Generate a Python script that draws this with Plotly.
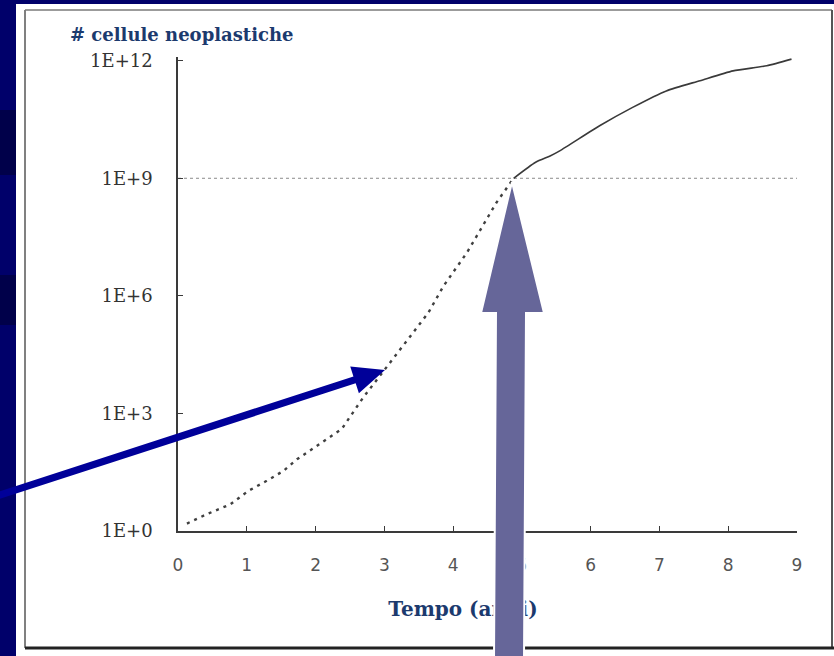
import plotly.graph_objects as go
import numpy as np

# ---- data (time in years, log10 of neoplastic cell count)
dotted_time = [0.13, 0.42, 0.76, 1.02, 1.29, 1.53, 1.73, 2.06, 2.38, 2.69, 3.06,
               3.40, 3.64, 3.86, 4.20, 4.63, 4.88]
dotted_log = [0.19, 0.43, 0.68, 1.02, 1.28, 1.53, 1.83, 2.21, 2.60, 3.40, 4.26,
              5.02, 5.57, 6.25, 7.10, 8.38, 9.00]
solid_time = [4.88, 5.20, 5.41, 5.55, 6.13, 6.61, 7.10, 7.59, 8.07, 8.56, 8.92]
solid_log = [9.00, 9.41, 9.57, 9.70, 10.34, 10.81, 11.23, 11.49, 11.74, 11.87, 12.04]
threshold_value = 1e9
threshold_time = [0, 9]
x_tickvals = [0, 1, 2, 3, 4, 5, 6, 7, 8, 9]
x_ticktext = ["0", "1", "2", "3", "4", "5", "6", "7", "8", "9"]
y_tickvals = [1, 1e3, 1e6, 1e9, 1e12]
y_ticktext = ["1E+0", "1E+3", "1E+6", "1E+9", "1E+12"]
y_title = "# cellule neoplastiche"
x_title = "Tempo (anni)"

W, H = 834, 656


def px(x):
    return x / W


def py(y):
    return 1 - y / H


def path(points):
    return "M " + " L ".join(f"{px(a):.5f},{py(b):.5f}" for a, b in points) + " Z"


NAVY = "#00006a"
AX = "#3a3a3a"
TITLE_BLUE = "#1c3a6e"

fig = go.Figure()
fig.add_trace(go.Scatter(x=threshold_time, y=[threshold_value] * 2, mode="lines",
                         line=dict(color="#8a8a8a", width=1, dash="3px,3px"),
                         hoverinfo="skip"))
fig.add_trace(go.Scatter(x=dotted_time, y=[10 ** v for v in dotted_log], mode="lines",
                         line=dict(color="#404040", width=2.4, dash="3px,5px")))
fig.add_trace(go.Scatter(x=solid_time, y=[10 ** v for v in solid_log], mode="lines",
                         line=dict(color="#3a3a3a", width=1.6, shape="spline",
                                   smoothing=0.6)))

shapes = []
# white slide panel and its frame
shapes.append(dict(type="rect", xref="paper", yref="paper", x0=px(16), x1=px(834),
                   y0=py(656), y1=py(4), fillcolor="white", line=dict(width=0),
                   layer="below"))
# darker bands in the left strip
for a, b in [(110, 175), (275, 325)]:
    shapes.append(dict(type="rect", xref="paper", yref="paper", x0=0, x1=px(16),
                       y0=py(b), y1=py(a), fillcolor="#00004a", line=dict(width=0),
                       layer="below"))
shapes.append(dict(type="line", xref="paper", yref="paper", x0=px(25), x1=px(25),
                   y0=py(648), y1=py(10), line=dict(color="#808080", width=2), layer="below"))
shapes.append(dict(type="line", xref="paper", yref="paper", x0=px(25), x1=px(832),
                   y0=py(10), y1=py(10), line=dict(color="#7a7a7a", width=1.5), layer="below"))
shapes.append(dict(type="line", xref="paper", yref="paper", x0=px(832), x1=px(832),
                   y0=py(648), y1=py(10), line=dict(color="#555555", width=2), layer="below"))
shapes.append(dict(type="line", xref="paper", yref="paper", x0=px(25), x1=px(834),
                   y0=py(648), y1=py(648), line=dict(color="#222222", width=3), layer="below"))
# x-axis title as a shape label so that the arrow can cover it
shapes.append(dict(type="rect", xref="paper", yref="paper", x0=px(363), x1=px(563),
                   y0=py(625), y1=py(591), fillcolor="rgba(0,0,0,0)", line=dict(width=0),
                   layer="below",
                   label=dict(text="<b>" + x_title + "</b>", textposition="middle center",
                              font=dict(family="DejaVu Serif", size=20, color=TITLE_BLUE))))

# dark blue arrow
tip = np.array([385.0, 370.0])
start = np.array([-20.0, 501.5])
u = (tip - start) / np.linalg.norm(tip - start)
n = np.array([-u[1], u[0]])
base = tip - 32 * u
pts = [start + n * 3.6, base + n * 3.6, base + n * 14, tip,
       base - n * 14, base - n * 3.6, start - n * 3.6]
shapes.append(dict(type="path", xref="paper", yref="paper", path=path(pts),
                   fillcolor="#000099", line=dict(width=0), layer="above"))

# purple arrow
purple = [(494, 660), (496, 313), (481, 313), (512, 182), (544, 313), (526, 313), (524, 660)]
shapes.append(dict(type="path", xref="paper", yref="paper", path=path(purple),
                   fillcolor="#666699", line=dict(color="white", width=2), layer="above"))

y0_px, y12_px = 531.0, 60.7
dec = (y0_px - y12_px) / 12
ytop = 12.1
fig.update_layout(
    width=W, height=H, autosize=False,
    margin=dict(l=0, r=0, t=0, b=0, pad=0),
    paper_bgcolor=NAVY, plot_bgcolor="rgba(0,0,0,0)",
    showlegend=False,
    shapes=shapes,
    xaxis=dict(domain=[px(178), px(797)], range=[0, 9], tickvals=x_tickvals,
               ticktext=x_ticktext, ticks="inside", ticklen=5, tickwidth=1,
               tickcolor=AX, showline=True, linecolor=AX, linewidth=1.5,
               showgrid=False, zeroline=False, ticklabelstandoff=18, automargin=False,
               tickfont=dict(family="DejaVu Sans", size=17, color="#555555")),
    yaxis=dict(type="log", domain=[py(y0_px), py(y12_px - (ytop - 12) * dec)],
               range=[0, ytop], tickvals=y_tickvals, ticktext=y_ticktext,
               ticks="inside", ticklen=5, tickwidth=1, tickcolor=AX,
               showline=True, linecolor=AX, linewidth=1.5, showgrid=False,
               zeroline=False, ticklabelstandoff=20, automargin=False,
               tickfont=dict(family="DejaVu Serif", size=18, color="#333333")),
    annotations=[dict(text="<b>" + y_title + "</b>", xref="paper", yref="paper",
                      x=px(68), y=py(35), xanchor="left", yanchor="middle",
                      showarrow=False,
                      font=dict(family="DejaVu Serif", size=18, color=TITLE_BLUE))],
)

fig.write_html("out.html", config={"displayModeBar": False},
               post_script="document.body.style.margin='0px';"
                           "document.body.style.background='" + NAVY + "';")
